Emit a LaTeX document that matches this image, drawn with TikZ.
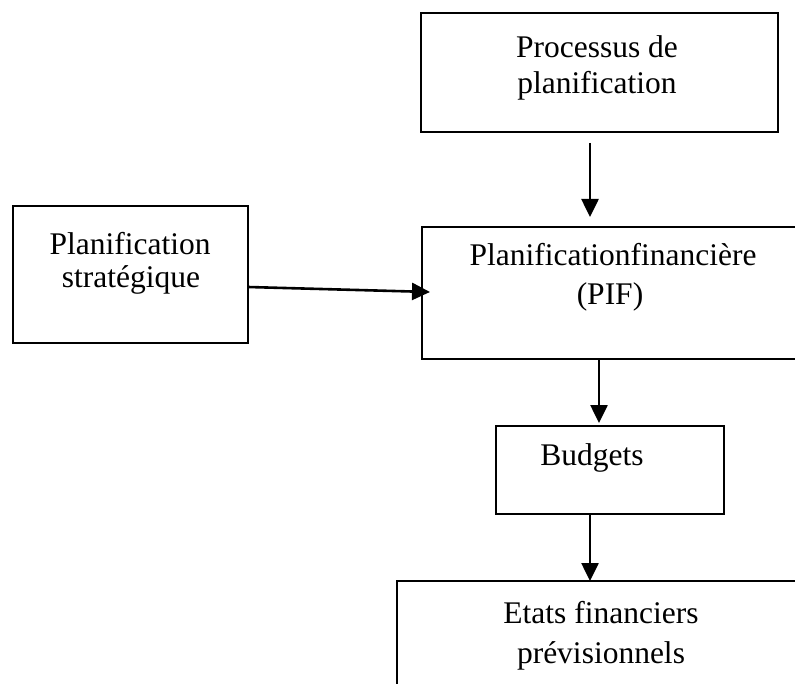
\documentclass[tikz,border=0pt]{standalone}
\usepackage{fontspec}
\setmainfont{Liberation Serif}[Ligatures={TeX,NoCommon}]
\usetikzlibrary{arrows.meta}
\begin{document}
\begin{tikzpicture}[x=1pt,y=-1pt,
  box/.style={draw=black,line width=2pt,rectangle,inner sep=0pt,outer sep=0pt},
  lbl/.style={anchor=base,inner sep=0pt,font=\fontsize{31.5}{36}\selectfont},
  arr/.style={line width=2.6pt,-{Triangle[length=18pt,width=17pt]}}]
\useasboundingbox (0,0) rectangle (795,684);
\clip (0,0) rectangle (795,684);
% boxes
\node[box,minimum width=357pt,minimum height=119pt] (b1) at (599.5,72.5) {};
\node[box,minimum width=235pt,minimum height=137pt] (b2) at (130.5,274.5) {};
\node[box,minimum width=378pt,minimum height=132pt] (b3) at (611,293) {};
\node[box,minimum width=228pt,minimum height=88pt] (b4) at (610,470) {};
\node[box,minimum width=408pt,minimum height=150pt] (b5) at (601,656) {};
% texts
\node[lbl] (t1a) at (597,58) {Processus de};
\node[lbl] (t1b) at (597,94) {planification};
\node[lbl] (t2a) at (130,255) {Planification};
\node[lbl] (t2b) at (131,288) {stratégique};
\node[lbl] (t3a) at (613,266) {Planificationfinancière};
\node[lbl] (t3b) at (610,305) {(PIF)};
\node[lbl] (t4) at (592,465) {Budgets};
\node[lbl] (t5a) at (601,623) {Etats financiers};
\node[lbl] (t5b) at (601,663) {prévisionnels};
% connectors
\draw[arr] ([xshift=-9.5pt,yshift=-11pt]b1.south) -- ([xshift=-21pt,yshift=10pt]b3.north);
\draw[arr] ([yshift=-12.5pt]b2.east) -- ([xshift=8pt,yshift=1pt]b3.west);
\draw[arr] ([xshift=-12pt]b3.south) -- ([xshift=-11pt,yshift=3pt]b4.north);
\draw[arr] ([xshift=-20pt]b4.south) -- ([xshift=-11pt]b5.north);
\end{tikzpicture}
\end{document}
